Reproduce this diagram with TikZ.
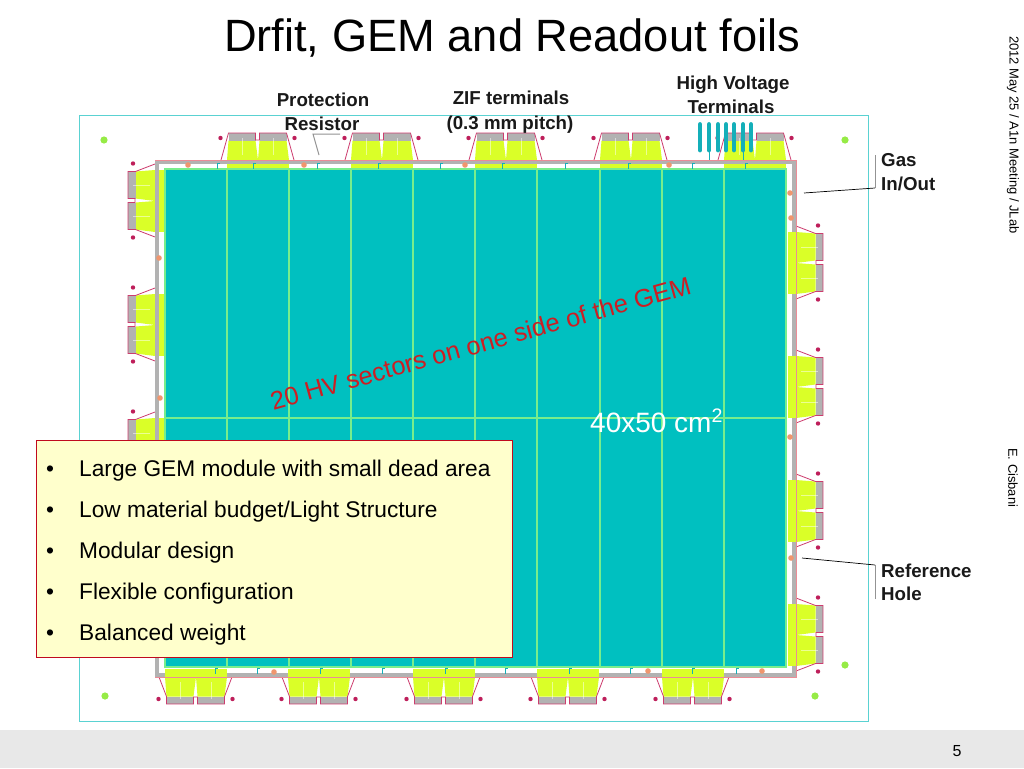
\documentclass[tikz,border=0pt]{standalone}
\usepackage{fontspec}
\setmainfont{Liberation Sans}
\definecolor{activeteal}{RGB}{0,192,192}
\definecolor{sectorline}{RGB}{120,238,140}
\definecolor{zifyellow}{RGB}{218,255,40}
\definecolor{zifgray}{RGB}{178,178,178}
\definecolor{pinkline}{RGB}{205,60,110}
\definecolor{outline}{RGB}{235,140,150}
\definecolor{holered}{RGB}{190,30,90}
\definecolor{holegreen}{RGB}{150,235,70}
\definecolor{holeorange}{RGB}{240,150,110}
\definecolor{framecyan}{RGB}{90,210,210}
\definecolor{termteal}{RGB}{20,175,185}
\definecolor{boxfill}{RGB}{255,255,204}
\definecolor{boxline}{RGB}{192,10,30}
\definecolor{footgray}{RGB}{232,232,232}
\definecolor{slidered}{RGB}{205,30,35}
\tikzset{
  callout/.style={anchor=base west,inner sep=0pt,font=\fontsize{18.7}{20}\selectfont\bfseries,text=black!90},
  calloutc/.style={anchor=base,inner sep=0pt,font=\fontsize{18.7}{20}\selectfont\bfseries,text=black!90},
  bullettext/.style={anchor=base west,inner sep=0pt,font=\fontsize{22.7}{25}\selectfont},
  sidetext/.style={anchor=west,inner sep=0pt,rotate=-90,font=\fontsize{12.95}{14}\selectfont},
  redhole/.style={fill=holered,draw=none},
  greenhole/.style={fill=holegreen,draw=none},
  orangehole/.style={fill=holeorange,draw=none},
  tabfill/.style={fill=zifgray,draw=none},
  pinkedge/.style={draw=pinkline,line width=0.8pt,line join=miter},
  leadergray/.style={draw=gray!85,line width=1pt},
  leaderblack/.style={draw=black,line width=0.7pt}
}
% one ZIF connector pair, in local coordinates: u along the frame side, v outward;
% #1 is the height at which the pink flank meets the tab
\newcommand{\zifpair}[1]{%
  \fill[zifyellow] (0,-8.5) rectangle (62,0);
  \fill[zifyellow] (0,0) -- (1.5,19.5) -- (28.5,19.5) -- (31,0) -- cycle;
  \fill[zifyellow] (31,0) -- (32.5,19.5) -- (59.5,19.5) -- (62,0) -- cycle;
  \fill[tabfill] (1.5,19.5) rectangle (28.5,27);
  \fill[tabfill] (32.5,19.5) rectangle (59.5,27);
  \draw[white,opacity=.5,line width=0.8pt] (15,5) -- (15,22) (46,5) -- (46,22);
  \draw[pinkedge] (-6,0) -- (1.5,#1) -- (1.5,27) -- (28.5,27) -- (28.5,20) -- (32.5,20) -- (32.5,27) -- (59.5,27) -- (59.5,#1) -- (67,0);
  \fill[holered] (-6.5,22) circle[radius=2.2pt];
  \fill[holered] (67.5,22) circle[radius=2.2pt];
}
\newcommand{\tmark}[2]{%
  \draw[termteal,line width=1pt] (#1,#2) -- (#1,#2+5.5) (#1,#2) -- (#1+3,#2);
}
\begin{document}
\begin{tikzpicture}[x=1pt,y=-1pt]
\useasboundingbox (0,0) rectangle (1024,768);
\fill[white] (0,0) rectangle (1024,768);
\fill[footgray] (0,730) rectangle (1024,768);
% outer foil outline
\draw[framecyan,line width=1pt] (79,115) rectangle (868,721);
% frame
\fill[zifgray] (155,673) rectangle (796,677);
\fill[zifgray] (792,160) rectangle (796,677);
% connectors
\foreach \s in {227,351,475,600,724}{
  \begin{scope}[shift={(\s,160)},x={(1pt,0pt)},y={(0pt,1pt)}]\zifpair{27}\end{scope}
}
\foreach \s in {165,288,413,537,662}{
  \begin{scope}[shift={(\s,677)},x={(1pt,0pt)},y={(0pt,-1pt)}]\zifpair{19.5}\end{scope}
}
\foreach \s in {170,294,418}{
  \begin{scope}[shift={(155,\s)},x={(0pt,-1pt)},y={(-1pt,0pt)}]\zifpair{19.5}\end{scope}
}
\foreach \s in {232,356,480,604}{
  \begin{scope}[shift={(796,\s)},x={(0pt,-1pt)},y={(1pt,0pt)}]\zifpair{19.5}\end{scope}
}
\fill[zifgray] (155,160) rectangle (159,677);
\fill[zifgray] (155,160) rectangle (796,164);
\draw[outline,line width=0.6pt] (155,160) -- (796,160) -- (796,677) -- (155,677);
% active area
\fill[activeteal] (165,169) rectangle (786,667);
\draw[sectorline,line width=1.3pt] (165,169) rectangle (786,667);
\foreach \x in {227,289,351,413,475,537,600,662,724}{
  \draw[sectorline,line width=1.3pt] (\x,169) -- (\x,667);
}
\draw[sectorline,line width=1.1pt] (165,418) -- (786,418);
% small terminals
\foreach \x in {217,253,317,378,440,502,565,628,692,745}{\tmark{\x}{163}}
\foreach \x in {215,257,320,382,445,505,569,630,692,736}{\tmark{\x}{668}}
% holes
\foreach \x/\y in {188/165,304/165,465/165,669/165,159/258,160/398,790/193,791/218,790/437,791/558,762/671,274/672,648/671}{
  \fill[orangehole] (\x,\y) circle[radius=2.8pt];
}
\foreach \x/\y in {104/140,845/140,105/696,815/696,845/665}{
  \fill[greenhole] (\x,\y) circle[radius=3.6pt];
}
% HV terminals
\foreach \x in {700,709,718,726,734,743,751}{
  \draw[termteal,line width=4.8pt,line cap=round] (\x,124.5) -- (\x,150);
}
\draw[termteal,line width=0.7pt] (709,150) -- (709,160) (743,150) -- (743,160);
% leaders
\coordinate (protA) at (340,134);
\coordinate (protB) at (313,134);
\coordinate (protC) at (319,155);
\coordinate (gasA) at (875,155);
\coordinate (gasB) at (875,188);
\coordinate (gasC) at (804,193);
\coordinate (refA) at (875,599);
\coordinate (refB) at (875,565);
\coordinate (refC) at (802,558);
\draw[leadergray] (protA) -- (protB) -- (protC);
\draw[leadergray] (gasA) -- (gasB);
\draw[leaderblack] (gasB) -- (gasC);
\draw[leadergray] (refA) -- (refB);
\draw[leaderblack] (refB) -- (refC);
% callouts
\node[calloutc] (protection) at (323,106) {Protection};
\node[calloutc] (resistor) at (322,130) {Resistor};
\node[calloutc] (zif) at (511,104) {ZIF terminals};
\node[calloutc] (pitch) at (510,129) {(0.3 mm pitch)};
\node[calloutc] (hv) at (733,89) {High Voltage};
\node[calloutc] (hvt) at (731,113) {Terminals};
\node[callout] (gas) at (881,166) {Gas};
\node[callout] (inout) at (881,190) {In/Out};
\node[callout] (reference) at (881,577) {Reference};
\node[callout] (hole) at (881,600) {Hole};
% title and slide text
\node[anchor=base,inner sep=0pt,font=\fontsize{45.25}{50}\selectfont] (title) at (512,52) {Drfit, GEM and Readout foils};
\node[anchor=base,inner sep=0pt,rotate=15.6,text=slidered,font=\fontsize{25.5}{30}\selectfont] (sectors) at (483,352) {20 HV sectors on one side of the GEM};
\node[anchor=base west,inner sep=0pt,text=white,font=\fontsize{28}{30}\selectfont] (size) at (590,432) {40x50 cm\textsuperscript{2}};
\node[sidetext] (date) at (1013,36) {2012 May 25 / A1n Meeting / JLab};
\node[sidetext] (author) at (1013,448) {E. Cisbani};
\node[anchor=base,inner sep=0pt,font=\fontsize{16}{18}\selectfont] (page) at (957,756) {5};
% bullet box
\draw[boxline,fill=boxfill,line width=1pt] (36.5,440.5) rectangle (512,657);
\foreach \y/\t/\n in {476/Large GEM module with small dead area/a,517/Low material budget\slash Light Structure/b,558/Modular design/c,599/Flexible configuration/d,640/Balanced weight/e}{
  \node[bullettext] (bul\n) at (46,\y) {•};
  \node[bullettext] (item\n) at (79,\y) {\t};
}
\end{tikzpicture}
\end{document}
